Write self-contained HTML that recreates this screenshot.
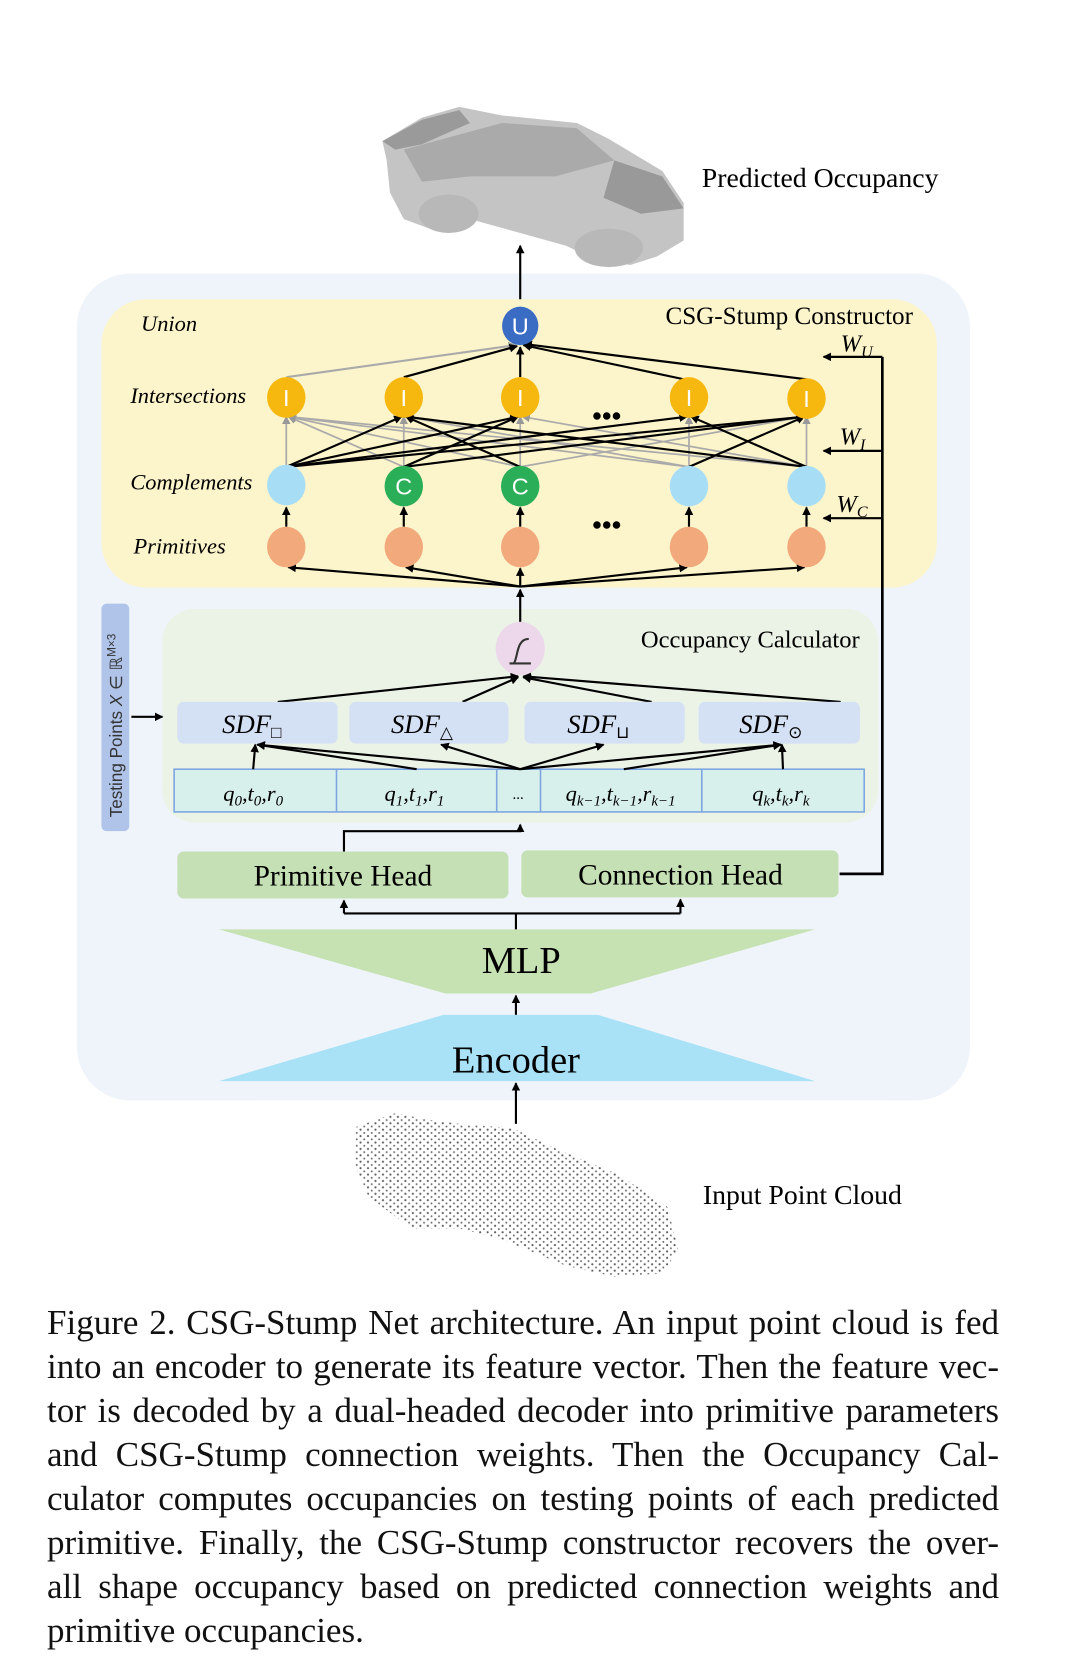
<!DOCTYPE html>
<html><head><meta charset="utf-8"><style>
html,body{margin:0;padding:0;background:#fff;}
#wrap{position:relative;width:1065px;height:1673px;overflow:hidden;}
svg{position:absolute;left:0;top:0;}
.cap{position:absolute;left:47px;width:952px;font-family:"Liberation Serif",serif;font-size:35px;color:#111;}
.cap div{text-align:justify;text-align-last:justify;height:44px;line-height:44px;white-space:nowrap;}
.cap div.last{text-align-last:left;}
</style></head><body><div id="wrap">
<svg width="1065" height="1673" viewBox="0 0 997 1566" font-family="Liberation Serif, serif">
<defs>
<marker id="a" markerWidth="8" markerHeight="8" refX="7" refY="4" orient="auto" markerUnits="userSpaceOnUse"><path d="M0,0 L8,4 L0,8 z" fill="#000"/></marker>
<marker id="g" markerWidth="8" markerHeight="8" refX="7" refY="4" orient="auto" markerUnits="userSpaceOnUse"><path d="M0,0 L8,4 L0,8 z" fill="#999"/></marker>
<pattern id="dots" width="7" height="6" patternUnits="userSpaceOnUse"><circle cx="1.5" cy="1.5" r="1" fill="#333"/><circle cx="5" cy="4.5" r="0.9" fill="#444"/></pattern>
</defs>
<path d="M358,132 L395,110 L430,100 L470,108 L540,115 L570,130 L620,160 L640,190 L640,225 L615,240 L590,248 L555,242 L530,230 L440,205 L405,215 L378,205 L365,180 L362,150 Z" fill="#c4c4c4"/>
<path d="M378,140 L470,115 L540,120 L575,150 L520,165 L440,165 L395,170 Z" fill="#aaa"/>
<path d="M575,150 L620,165 L640,195 L600,200 L565,185 Z" fill="#999"/>
<path d="M358,132 L395,112 L430,103 L440,115 L395,135 L370,140 Z" fill="#9a9a9a"/>
<ellipse cx="420" cy="200" rx="28" ry="18" fill="#b8b8b8"/>
<ellipse cx="570" cy="232" rx="32" ry="18" fill="#b8b8b8"/>
<text x="657" y="175" font-size="26">Predicted Occupancy</text>
<rect x="72" y="256" width="836" height="774" rx="50" fill="#eff4fa"/>
<line x1="487" y1="290" x2="487" y2="230" stroke="#000" stroke-width="2" marker-end="url(#a)"/>
<rect x="95" y="280" width="782" height="270" rx="42" fill="#fcf4cb"/>
<g font-style="italic" font-size="21">
<text x="132" y="310">Union</text><text x="122" y="377">Intersections</text><text x="122" y="458">Complements</text><text x="125" y="518">Primitives</text>
</g>
<text x="623" y="303" font-size="23.5">CSG-Stump Constructor</text>
<g stroke-width="2" fill="none">
<line x1="268" y1="353" x2="483" y2="323" stroke="#aaa" marker-end="url(#g)"/>
<line x1="378" y1="353" x2="484" y2="324" stroke="#000" marker-end="url(#a)"/>
<line x1="487" y1="353" x2="487" y2="325" stroke="#000" marker-end="url(#a)"/>
<line x1="645" y1="356" x2="490" y2="323" stroke="#000" marker-end="url(#a)"/>
<line x1="755" y1="355" x2="491" y2="322" stroke="#000" marker-end="url(#a)"/>
</g>
<g stroke="#aaa" stroke-width="1.6" fill="none" marker-end="url(#g)">
<line x1="268" y1="437" x2="268" y2="390"/><line x1="378" y1="437" x2="378" y2="390"/><line x1="487" y1="437" x2="487" y2="390"/><line x1="645" y1="437" x2="645" y2="390"/><line x1="755" y1="437" x2="755" y2="390"/>
<line x1="378" y1="437" x2="270" y2="390"/><line x1="487" y1="437" x2="270" y2="390"/><line x1="645" y1="437" x2="270" y2="390"/><line x1="755" y1="437" x2="270" y2="390"/>
<line x1="645" y1="437" x2="380" y2="390"/><line x1="755" y1="437" x2="489" y2="390"/><line x1="268" y1="437" x2="643" y2="390"/><line x1="487" y1="437" x2="753" y2="390"/>
</g>
<g stroke="#000" stroke-width="2" fill="none" marker-end="url(#a)">
<line x1="268" y1="437" x2="376" y2="390"/><line x1="268" y1="437" x2="485" y2="390"/><line x1="268" y1="437" x2="643" y2="390"/><line x1="268" y1="437" x2="753" y2="390"/>
<line x1="378" y1="437" x2="485" y2="390"/><line x1="378" y1="437" x2="753" y2="390"/><line x1="487" y1="437" x2="380" y2="390"/>
<line x1="755" y1="437" x2="380" y2="390"/><line x1="755" y1="437" x2="647" y2="390"/><line x1="645" y1="437" x2="753" y2="390"/>
</g>
<g stroke="#000" stroke-width="2" marker-end="url(#a)">
<line x1="268" y1="493" x2="268" y2="475"/><line x1="378" y1="493" x2="378" y2="475"/><line x1="487" y1="493" x2="487" y2="475"/><line x1="645" y1="493" x2="645" y2="475"/><line x1="755" y1="493" x2="755" y2="475"/>
<line x1="487" y1="549" x2="270" y2="531"/><line x1="487" y1="549" x2="380" y2="531"/><line x1="487" y1="549" x2="487" y2="532"/><line x1="487" y1="549" x2="643" y2="531"/><line x1="487" y1="549" x2="753" y2="531"/>
</g>
<g font-family="Liberation Sans, sans-serif" font-size="22" fill="#fff" text-anchor="middle">
<ellipse cx="487" cy="305" rx="17" ry="18" fill="#3a6cc4"/><text x="487" y="313">U</text>
<ellipse cx="268" cy="372" rx="18" ry="19" fill="#f6b80e"/><text x="268" y="380">I</text>
<ellipse cx="378" cy="372" rx="18" ry="19" fill="#f6b80e"/><text x="378" y="380">I</text>
<ellipse cx="487" cy="372" rx="18" ry="19" fill="#f6b80e"/><text x="487" y="380">I</text>
<ellipse cx="645" cy="372" rx="18" ry="19" fill="#f6b80e"/><text x="645" y="380">I</text>
<ellipse cx="755" cy="373" rx="18" ry="19" fill="#f6b80e"/><text x="755" y="381">I</text>
<ellipse cx="268" cy="454" rx="18" ry="19" fill="#a7def5"/>
<ellipse cx="378" cy="455" rx="18" ry="19" fill="#2aaf58"/><text x="378" y="463">C</text>
<ellipse cx="487" cy="455" rx="18" ry="19" fill="#2aaf58"/><text x="487" y="463">C</text>
<ellipse cx="645" cy="455" rx="18" ry="19" fill="#a7def5"/>
<ellipse cx="755" cy="455" rx="18" ry="19" fill="#a7def5"/>
<ellipse cx="268" cy="512" rx="18" ry="19" fill="#f2a97b"/><ellipse cx="378" cy="512" rx="18" ry="19" fill="#f2a97b"/><ellipse cx="487" cy="512" rx="18" ry="19" fill="#f2a97b"/><ellipse cx="645" cy="512" rx="18" ry="19" fill="#f2a97b"/><ellipse cx="755" cy="512" rx="18" ry="19" fill="#f2a97b"/>
</g>
<text x="568" y="398" font-size="26" font-weight="bold" text-anchor="middle">•••</text>
<text x="568" y="500" font-size="26" font-weight="bold" text-anchor="middle">•••</text>
<g font-style="italic" font-size="23"><text x="787" y="329">W<tspan font-size="15" dy="5">U</tspan></text><text x="786" y="416">W<tspan font-size="15" dy="5">I</tspan></text><text x="783" y="479">W<tspan font-size="15" dy="5">C</tspan></text></g>
<polyline points="786,818 826,818 826,334" fill="none" stroke="#000" stroke-width="2.5"/>
<g stroke="#000" stroke-width="2" marker-end="url(#a)"><line x1="826" y1="334" x2="771" y2="334"/><line x1="826" y1="422" x2="771" y2="422"/><line x1="826" y1="485" x2="771" y2="485"/></g>
<rect x="152" y="570" width="670" height="200" rx="30" fill="#ebf3e7"/>
<text x="600" y="606" font-size="23">Occupancy Calculator</text>
<line x1="487" y1="585" x2="487" y2="552" stroke="#000" stroke-width="2" marker-end="url(#a)"/>
<ellipse cx="487" cy="607" rx="23" ry="25" fill="#ecd8ea"/>
<path d="M477,621 L497,621 M481,621 C485,616 483,598 495,598" fill="none" stroke="#333" stroke-width="2"/>
<rect x="95" y="565" width="26" height="213" rx="5" fill="#b0c3e8"/>
<text transform="translate(114,765) rotate(-90)" font-family="Liberation Sans, sans-serif" font-size="16" fill="#333">Testing Points <tspan font-style="italic">X</tspan> ∈ ℝ<tspan font-size="11" dy="-6">M×3</tspan></text>
<line x1="123" y1="671" x2="152" y2="671" stroke="#000" stroke-width="2" marker-end="url(#a)"/>
<g stroke="#000" stroke-width="2" marker-end="url(#a)">
<line x1="260" y1="657" x2="485" y2="633"/><line x1="433" y1="657" x2="485" y2="634"/><line x1="610" y1="657" x2="490" y2="634"/><line x1="787" y1="657" x2="490" y2="633"/>
</g>
<g fill="#d4e0f3"><rect x="166" y="657" width="150" height="39" rx="6"/><rect x="327" y="657" width="149" height="39" rx="6"/><rect x="491" y="657" width="150" height="39" rx="6"/><rect x="654" y="657" width="151" height="39" rx="6"/></g>
<g font-style="italic" font-size="25"><text x="208" y="686">SDF<tspan font-style="normal" font-size="16" dy="5">□</tspan></text><text x="366" y="686">SDF<tspan font-style="normal" font-size="16" dy="5">△</tspan></text><text x="531" y="686">SDF<tspan font-style="normal" font-size="16" dy="5">⊔</tspan></text><text x="692" y="686">SDF<tspan font-style="normal" font-size="16" dy="5">⊙</tspan></text></g>
<rect x="163" y="720" width="646" height="40" fill="#d8f0eb" stroke="#7ea6e0" stroke-width="1.5"/>
<g stroke="#7ea6e0" stroke-width="1.5"><line x1="315" y1="720" x2="315" y2="760"/><line x1="465" y1="720" x2="465" y2="760"/><line x1="506" y1="720" x2="506" y2="760"/><line x1="657" y1="720" x2="657" y2="760"/></g>
<g stroke="#000" stroke-width="2" marker-end="url(#a)">
<line x1="237" y1="720" x2="239" y2="697"/><line x1="390" y1="720" x2="241" y2="697"/><line x1="487" y1="720" x2="241" y2="697"/>
<line x1="487" y1="720" x2="413" y2="697"/><line x1="487" y1="720" x2="565" y2="697"/><line x1="487" y1="720" x2="731" y2="697"/><line x1="584" y1="720" x2="731" y2="697"/><line x1="733" y1="720" x2="732" y2="697"/>
</g>
<g font-style="italic" font-size="21" text-anchor="middle"><text x="237" y="750">q<tspan font-size="14" dy="4">0</tspan><tspan dy="-4">,t</tspan><tspan font-size="14" dy="4">0</tspan><tspan dy="-4">,r</tspan><tspan font-size="14" dy="4">0</tspan></text>
<text x="388" y="750">q<tspan font-size="14" dy="4">1</tspan><tspan dy="-4">,t</tspan><tspan font-size="14" dy="4">1</tspan><tspan dy="-4">,r</tspan><tspan font-size="14" dy="4">1</tspan></text>
<text x="485" y="748" font-style="normal" font-size="14">...</text>
<text x="581" y="750">q<tspan font-size="14" dy="4">k−1</tspan><tspan dy="-4">,t</tspan><tspan font-size="14" dy="4">k−1</tspan><tspan dy="-4">,r</tspan><tspan font-size="14" dy="4">k−1</tspan></text>
<text x="731" y="750">q<tspan font-size="14" dy="4">k</tspan><tspan dy="-4">,t</tspan><tspan font-size="14" dy="4">k</tspan><tspan dy="-4">,r</tspan><tspan font-size="14" dy="4">k</tspan></text></g>
<polyline points="322,797 322,778 487,778 487,772" fill="none" stroke="#000" stroke-width="2" marker-end="url(#a)"/>
<rect x="166" y="797" width="310" height="44" rx="6" fill="#c6e0b5"/>
<rect x="488" y="796" width="297" height="44" rx="6" fill="#c6e0b5"/>
<text x="321" y="829" font-size="27.5" text-anchor="middle">Primitive Head</text>
<text x="637" y="828" font-size="27.5" text-anchor="middle">Connection Head</text>
<polyline points="483,870 483,855" fill="none" stroke="#000" stroke-width="2"/>
<polyline points="322,855 637,855" fill="none" stroke="#000" stroke-width="2"/>
<line x1="322" y1="855" x2="322" y2="843" stroke="#000" stroke-width="2" marker-end="url(#a)"/>
<line x1="637" y1="855" x2="637" y2="842" stroke="#000" stroke-width="2" marker-end="url(#a)"/>
<polygon points="205,870 763,870 553,930 417,930" fill="#c6e2b3"/>
<text x="488" y="911" font-size="36" text-anchor="middle">MLP</text>
<line x1="483" y1="950" x2="483" y2="932" stroke="#000" stroke-width="2" marker-end="url(#a)"/>
<polygon points="415,950 560,950 763,1012 205,1012" fill="#a9e2f7"/>
<text x="483" y="1004" font-size="36" text-anchor="middle">Encoder</text>
<line x1="483" y1="1052" x2="483" y2="1014" stroke="#000" stroke-width="2" marker-end="url(#a)"/>
<path d="M333,1055 L370,1042 L400,1048 L430,1052 L480,1056 L520,1075 L580,1100 L625,1130 L635,1170 L620,1192 L575,1195 L530,1185 L470,1160 L430,1150 L385,1150 L345,1120 L332,1090 Z" fill="url(#dots)" opacity="0.8"/>
<text x="658" y="1127" font-size="26">Input Point Cloud</text>
</svg>
<div class="cap" style="top:1301px">
<div>Figure 2. CSG-Stump Net architecture. An input point cloud is fed</div>
<div>into an encoder to generate its feature vector. Then the feature vec-</div>
<div>tor is decoded by a dual-headed decoder into primitive parameters</div>
<div>and CSG-Stump connection weights. Then the Occupancy Cal-</div>
<div>culator computes occupancies on testing points of each predicted</div>
<div>primitive. Finally, the CSG-Stump constructor recovers the over-</div>
<div>all shape occupancy based on predicted connection weights and</div>
<div class="last">primitive occupancies.</div>
</div>
</div></body></html>
